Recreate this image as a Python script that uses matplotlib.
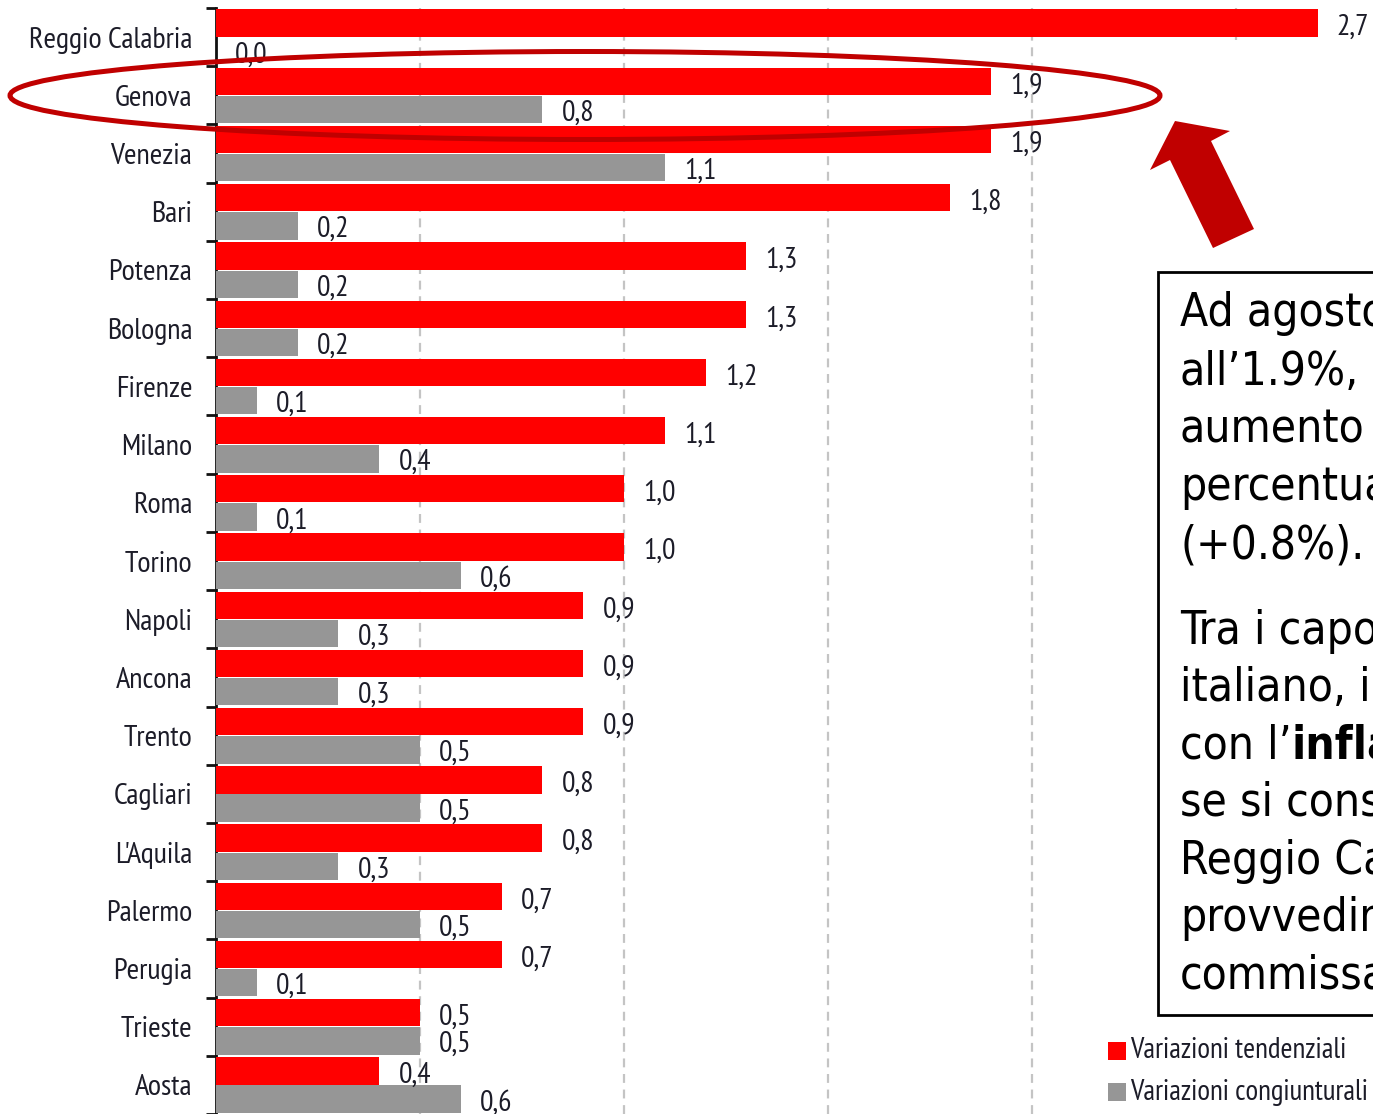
import matplotlib.pyplot as plt
from matplotlib.patches import Ellipse, Polygon, Rectangle
import numpy as np

cities = ["Reggio Calabria", "Genova", "Venezia", "Bari", "Potenza", "Bologna",
          "Firenze", "Milano", "Roma", "Torino", "Napoli", "Ancona", "Trento",
          "Cagliari", "L'Aquila", "Palermo", "Perugia", "Trieste", "Aosta"]
tendenziali = [2.7, 1.9, 1.9, 1.8, 1.3, 1.3, 1.2, 1.1, 1.0, 1.0,
               0.9, 0.9, 0.9, 0.8, 0.8, 0.7, 0.7, 0.5, 0.4]
congiunturali = [0.0, 0.8, 1.1, 0.2, 0.2, 0.2, 0.1, 0.4, 0.1, 0.6,
                 0.3, 0.3, 0.5, 0.5, 0.3, 0.5, 0.1, 0.5, 0.6]
legend_labels = ["Variazioni tendenziali", "Variazioni congiunturali"]

RED = "#ff0000"
GREY = "#969696"
DARK_RED = "#c00000"
TXT = "#1c1c28"
narrow = ["Arial Narrow", "Liberation Sans Narrow", "PT Sans Narrow",
          "Archivo Narrow", "Roboto Condensed", "IBM Plex Sans Condensed", "DejaVu Sans"]

W, H = 1373, 1114
fig = plt.figure(figsize=(W / 100, H / 100), dpi=100)

def fx(px):
    return px / W

def fy(py):
    return 1 - py / H

# plot area: x=0 at pixel 216, one unit ~408 px
x_max = (W - 216) / 408
ax = fig.add_axes([fx(216), 0, 1 - fx(216), fy(8)])
y = np.arange(len(cities))
h = 0.47
bars_r = ax.barh(y - 0.24, tendenziali, height=h, color=RED, zorder=3)
bars_g = ax.barh(y + 0.245, congiunturali, height=h, color=GREY, zorder=3)

for yi, v in zip(y, tendenziali):
    ax.text(v + 0.047, yi - 0.16, f"{v:.1f}".replace(".", ","), va="center",
            ha="left", fontsize=21.5, family=narrow, color=TXT, zorder=4)
for yi, v in zip(y, congiunturali):
    ax.text(v + 0.047, yi + 0.31, f"{v:.1f}".replace(".", ","), va="center",
            ha="left", fontsize=21.5, family=narrow, color=TXT, zorder=4)

ax.set_xlim(0, x_max)
ax.set_ylim(len(cities) - 0.5, -0.5)
ax.set_xticks(np.arange(0.5, 3.0, 0.5))
ax.xaxis.grid(True, color="#c4c4c4", linestyle=(0, (4, 3)), linewidth=1.6, zorder=0)
ax.tick_params(axis="x", length=0, labelbottom=False)

ax.set_yticks(y)
ax.set_yticklabels(cities, fontsize=21.8, family=narrow, color=TXT)
ax.set_yticks(np.arange(-0.5, len(cities), 1.0), minor=True)
ax.tick_params(axis="y", which="major", length=0, pad=17)
ax.tick_params(axis="y", which="minor", length=7, width=2, color="#111111")
for s in ["top", "right", "bottom"]:
    ax.spines[s].set_visible(False)
ax.spines["left"].set_linewidth(2)
ax.spines["left"].set_color("#111111")

# white panel behind the comment box and legend
fig.patches.append(Rectangle((fx(1100), 0), 1 - fx(1100), fy(40), transform=fig.transFigure,
                             facecolor="white", edgecolor="none", zorder=5))

# highlight around Genova
fig.patches.append(Ellipse((fx(585), fy(95.5)), 1150 / W, 88 / H, transform=fig.transFigure,
                           fill=False, edgecolor=DARK_RED, linewidth=3.6, zorder=6))

# arrow pointing at the highlight
arrow_px = [(1175, 121), (1230, 131), (1211, 141), (1254, 229),
            (1213, 248), (1170, 160), (1150, 170)]
fig.patches.append(Polygon([(fx(a), fy(b)) for a, b in arrow_px], closed=True,
                           transform=fig.transFigure, facecolor=DARK_RED,
                           edgecolor="none", zorder=6))

# comment box
fig.patches.append(Rectangle((fx(1158), fy(1015)), 1 - fx(1158) + 0.01, (1015 - 272) / H,
                             transform=fig.transFigure, facecolor="white",
                             edgecolor="black", linewidth=2, zorder=6))

box_font = dict(fontsize=33, family="DejaVu Sans", fontstretch="condensed",
                color="black", va="center", ha="left", zorder=7)
para1 = ["Ad agosto", "all\u20191.9%,", "aumento", "percentuale", "(+0.8%)."]
para2 = ["Tra i capoluoghi", "italiano, il", None, "se si considera",
         "Reggio Calabria", "provvedimenti", "commissariale"]
for i, line in enumerate(para1):
    fig.text(fx(1180), fy(314 + 58 * i), line, **box_font)
for i, line in enumerate(para2):
    yy = fy(631 + 57.5 * i)
    if line is None:
        t = fig.text(fx(1180), yy, "con l\u2019", **box_font)
        fig.canvas.draw()
        bb = t.get_window_extent()
        fig.text(bb.x1 / W, yy, "inflazione", fontweight="bold",
                 **box_font)
    else:
        fig.text(fx(1180), yy, line, **box_font)

# legend
for i, (lab, col) in enumerate(zip(legend_labels, [RED, GREY])):
    yc = 1051 + 41 * i
    fig.patches.append(Rectangle((fx(1108), fy(yc + 9)), 18 / W, 18 / H,
                                 transform=fig.transFigure, facecolor=col,
                                 edgecolor="none", zorder=7))
    fig.text(fx(1130), fy(yc), lab, fontsize=20.8, family=narrow, color=TXT,
             va="center", ha="left", zorder=7)

fig.savefig("out.png", dpi=100)
